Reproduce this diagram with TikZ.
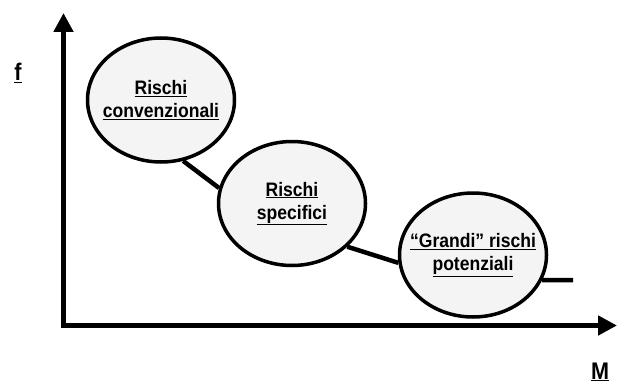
\documentclass[tikz,border=0pt]{standalone}
\usepackage{fontspec}
\setmainfont{Liberation Sans}
\newfontfamily\bubblefont[FakeStretch=0.9]{Liberation Sans}
\usetikzlibrary{shapes.geometric,arrows.meta}
\definecolor{bubblefill}{HTML}{F4F4F4}
\tikzset{
  bubble/.style={ellipse, draw=black, line width=3.5pt, fill=bubblefill,
    minimum width=147pt, minimum height=124pt, inner sep=0pt},
  bubbletext/.style={align=center, inner sep=0pt,
    font=\bubblefont\bfseries\fontsize{19.5}{23}\selectfont},
  link/.style={draw=black, line width=4.5pt},
  axisline/.style={draw=black, line width=5pt, line join=miter,
    {Triangle[length=19pt,width=19pt]}-{Triangle[length=19pt,width=19pt]}},
  axislabel/.style={font=\bubblefont\bfseries\fontsize{24}{26}\selectfont, inner sep=0pt}
}
\begin{document}
\begin{tikzpicture}[x=1pt,y=-1pt]
\useasboundingbox (0,0) rectangle (617,385);
% axes
\coordinate (ytip) at (63.5,13);
\coordinate (orig) at (63.5,325.5);
\coordinate (xtip) at (617,325.5);
\draw[axisline] (ytip) -- (orig) -- (xtip);
\node[axislabel] (flab) at (18,73) {\underline{f}};
\node[axislabel] (mlab) at (600,372) {\underline{M}};
% bubbles
\node[bubble] (e1) at (161,100) {};
\node[bubble] (e2) at (292,203.5) {};
\node[bubble] (e3) at (473,255) {};
\node[bubbletext] (t1) at (e1.center) {\underline{Rischi}\\\underline{convenzionali}};
\node[bubbletext] (t2) at (e2.center) {\underline{Rischi}\\\underline{specifici}};
\node[bubbletext] (t3) at (e3.center) {\underline{“Grandi” rischi}\\\underline{potenziali}};
% connectors
\coordinate (tail) at (573,280);
\draw[link] (e1.-70) -- (e2.168);
\draw[link] (e2.-38) -- (e3.-174);
\draw[link] (e3.-20) -- (tail);
\end{tikzpicture}
\end{document}
